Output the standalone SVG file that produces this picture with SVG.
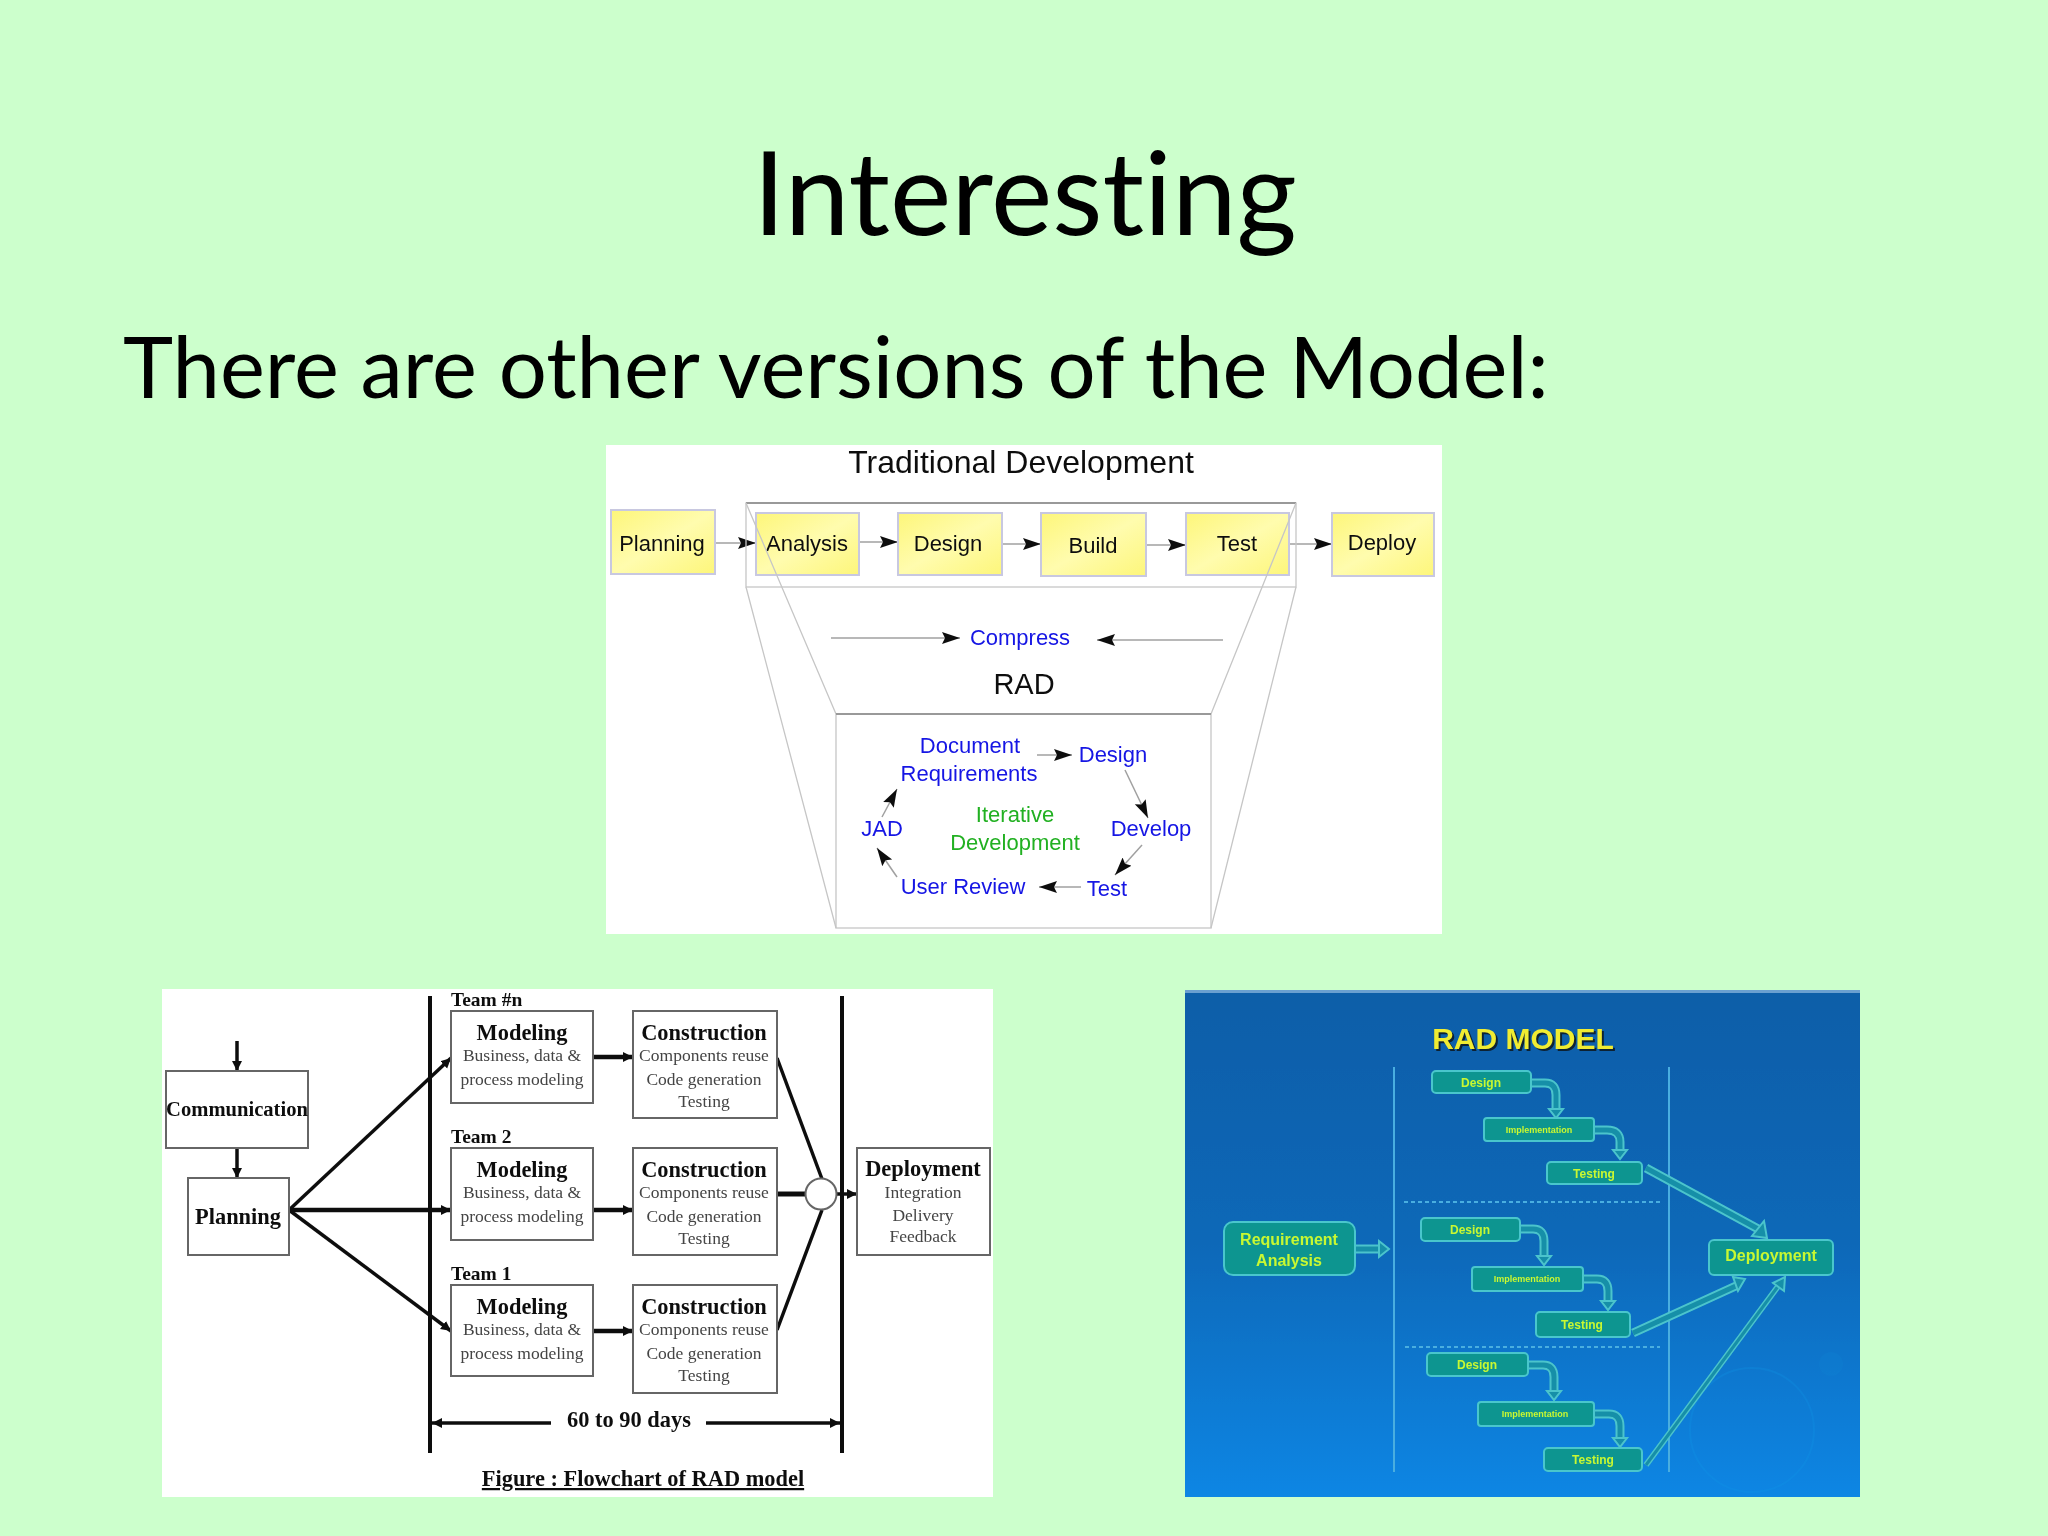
<svg xmlns="http://www.w3.org/2000/svg" width="2048" height="1536" viewBox="0 0 2048 1536">
<style>
.h{font-family:Lato,"Open Sans","Liberation Sans",sans-serif;fill:#000;font-variant-ligatures:none}
.a{font-family:"Liberation Sans",Arial,sans-serif;text-anchor:middle}
.k{fill:#111;font-size:22px}
.b{fill:#1414e4;font-size:22px}
.g{fill:#20b020;font-size:22px}
.y{fill:url(#yel);stroke:#c8c8e0;stroke-width:2}
.t{fill:none;stroke:#c6c6c6;stroke-width:1.3}
.c1{fill:none;stroke:#a0a0a0;stroke-width:1.5;marker-end:url(#m1)}
.s{font-family:"Liberation Serif","Times New Roman",serif;text-anchor:middle}
.sb{font-weight:bold;font-size:22.4px;fill:#111}
.ss{font-size:17.5px;fill:#444}
.tm{font-weight:bold;font-size:19.5px;fill:#111;text-anchor:start}
.w{fill:#fff;stroke:#666;stroke-width:2}
.c2{fill:none;stroke:#111;stroke-width:3.5;marker-end:url(#m2)}
.l2{fill:none;stroke:#111;stroke-width:3.5}
.r{fill:#0f9590;stroke:#49c6cc;stroke-width:2}
.q{font-family:"Liberation Sans",Arial,sans-serif;text-anchor:middle;fill:#c8f830;font-weight:bold}
.o{fill:none;stroke:#4cc4cc;stroke-width:9}
.i{fill:none;stroke:#178fa8;stroke-width:5}
.v{fill:none;stroke:#4aaee0;stroke-width:2}
.d{fill:none;stroke:#4aaee0;stroke-width:2;stroke-dasharray:4 3}
.hd{fill:#178fa8;stroke:#4cc4cc;stroke-width:2}
</style>
<defs>
<linearGradient id="yel" x1="0" y1="0" x2="1" y2="1"><stop offset="0" stop-color="#fdf67a"/><stop offset=".5" stop-color="#fffcae"/><stop offset="1" stop-color="#fdf67a"/></linearGradient>
<linearGradient id="blu" x1="0" y1="0" x2="0" y2="1"><stop offset="0" stop-color="#0a5ea8"/><stop offset=".5" stop-color="#0868b8"/><stop offset="1" stop-color="#0a86e4"/></linearGradient>
<marker id="m1" markerUnits="userSpaceOnUse" markerWidth="20" markerHeight="14" refX="18" refY="6" orient="auto"><path d="M0 0L18 6L0 12L3 6Z" fill="#111"/></marker>
<marker id="m2" markerUnits="userSpaceOnUse" markerWidth="12" markerHeight="12" refX="10" refY="5" orient="auto"><path d="M0 0L10 5L0 10Z" fill="#111"/></marker>
<filter id="soft" x="-2%" y="-2%" width="104%" height="104%"><feGaussianBlur stdDeviation="0.45"/></filter>
</defs>
<rect width="2048" height="1536" fill="#ccffcc"/>
<text id="title" class="h" x="1025" y="235" font-size="116" text-anchor="middle">Interesting</text>
<text id="subtitle" class="h" x="123" y="398" font-size="85">There are other versions of the Model:</text>

<g id="panel-traditional" filter="url(#soft)">
<rect x="606" y="445" width="836" height="489" fill="#fff"/>
<text class="a" x="1021" y="473" font-size="32" fill="#111">Traditional Development</text>
<g id="t-connectors">
<path class="c1" d="M715 543H756"/><path class="c1" d="M859 542H898"/><path class="c1" d="M1002 544H1041"/><path class="c1" d="M1146 545H1186"/><path class="c1" d="M1289 544H1332"/>
<path class="c1" d="M831 638H960"/><path class="c1" d="M1223 640H1097"/>
<path class="c1" d="M1037 755H1072"/><path class="c1" d="M1125 770L1148 818"/><path class="c1" d="M1142 845L1115 875"/><path class="c1" d="M1081 887H1039"/><path class="c1" d="M897 877L877 848"/><path class="c1" d="M882 817L897 789"/>
</g>
<g id="n-planning"><rect class="y" x="611" y="510" width="104" height="64"/><text class="a k" x="662" y="551">Planning</text></g>
<g id="n-analysis"><rect class="y" x="756" y="513" width="103" height="62"/><text class="a k" x="807" y="551">Analysis</text></g>
<g id="n-design"><rect class="y" x="898" y="513" width="104" height="62"/><text class="a k" x="948" y="551">Design</text></g>
<g id="n-build"><rect class="y" x="1041" y="513" width="105" height="63"/><text class="a k" x="1093" y="553">Build</text></g>
<g id="n-test"><rect class="y" x="1186" y="513" width="103" height="62"/><text class="a k" x="1237" y="551">Test</text></g>
<g id="n-deploy"><rect class="y" x="1332" y="513" width="102" height="63"/><text class="a k" x="1382" y="550">Deploy</text></g>
<g id="compress-frame">
<rect class="t" x="746" y="503" width="550" height="84"/>
<path d="M746 503H1296" fill="none" stroke="#999" stroke-width="2"/>
<path class="t" d="M746 503L836 714M746 587L836 928M1296 503L1211 714M1296 587L1211 928"/>
<rect class="t" x="836" y="714" width="375" height="214"/>
<path d="M836 714H1211" fill="none" stroke="#999" stroke-width="2"/>
</g>
<text class="a b" x="1020" y="645">Compress</text>
<text class="a" x="1024" y="694" font-size="29" fill="#111">RAD</text>
<g id="n-doc"><text class="a b" x="970" y="753">Document</text><text class="a b" x="969" y="781">Requirements</text></g>
<text id="n-rdesign" class="a b" x="1113" y="762">Design</text>
<text id="n-develop" class="a b" x="1151" y="836">Develop</text>
<text id="n-jad" class="a b" x="882" y="836">JAD</text>
<text id="n-review" class="a b" x="963" y="894">User Review</text>
<text id="n-rtest" class="a b" x="1107" y="896">Test</text>
<g id="n-iter"><text class="a g" x="1015" y="822">Iterative</text><text class="a g" x="1015" y="850">Development</text></g>
</g>

<g id="panel-flowchart" filter="url(#soft)">
<rect x="162" y="989" width="831" height="508" fill="#fff"/>
<g id="f-connectors">
<path class="c2" d="M237 1041V1071"/><path class="c2" d="M237 1148V1178"/>
<path class="c2" d="M289 1210L451 1058"/><path class="c2" d="M289 1210H451" style="stroke-width:4.5"/><path class="c2" d="M289 1210L451 1331"/>
<path class="c2" d="M593 1057H633" style="stroke-width:4.5"/><path class="c2" d="M593 1210H633" style="stroke-width:4.5"/><path class="c2" d="M593 1331H633" style="stroke-width:4.5"/>
<path class="l2" d="M777 1058L822 1179M777 1330L822 1210"/><path class="l2" d="M777 1194H806" style="stroke-width:5"/>
<path class="c2" d="M837 1194H857"/>
<path class="c2" d="M551 1423H432"/><path class="c2" d="M706 1423H840"/>
<path class="l2" d="M430 996V1453M842 996V1453" style="stroke-width:4"/>
</g>
<g id="n-communication"><rect class="w" x="166" y="1071" width="142" height="77"/><text class="s sb" x="237" y="1116" style="font-size:20.6px">Communication</text></g>
<g id="n-fplanning"><rect class="w" x="188" y="1178" width="101" height="77"/><text class="s sb" x="238" y="1224">Planning</text></g>
<g id="team-n">
<text class="s tm" x="451" y="1006">Team #n</text>
<rect class="w" x="451" y="1011" width="142" height="92"/><text class="s sb" x="522" y="1040">Modeling</text><text class="s ss" x="522" y="1061">Business, data &amp;</text><text class="s ss" x="522" y="1085">process modeling</text>
<rect class="w" x="633" y="1011" width="144" height="107"/><text class="s sb" x="704" y="1040">Construction</text><text class="s ss" x="704" y="1061">Components reuse</text><text class="s ss" x="704" y="1085">Code generation</text><text class="s ss" x="704" y="1107">Testing</text>
</g>
<g id="team-2">
<text class="s tm" x="451" y="1143">Team 2</text>
<rect class="w" x="451" y="1148" width="142" height="92"/><text class="s sb" x="522" y="1177">Modeling</text><text class="s ss" x="522" y="1198">Business, data &amp;</text><text class="s ss" x="522" y="1222">process modeling</text>
<rect class="w" x="633" y="1148" width="144" height="107"/><text class="s sb" x="704" y="1177">Construction</text><text class="s ss" x="704" y="1198">Components reuse</text><text class="s ss" x="704" y="1222">Code generation</text><text class="s ss" x="704" y="1244">Testing</text>
</g>
<g id="team-1">
<text class="s tm" x="451" y="1280">Team 1</text>
<rect class="w" x="451" y="1285" width="142" height="91"/><text class="s sb" x="522" y="1314">Modeling</text><text class="s ss" x="522" y="1335">Business, data &amp;</text><text class="s ss" x="522" y="1359">process modeling</text>
<rect class="w" x="633" y="1285" width="144" height="108"/><text class="s sb" x="704" y="1314">Construction</text><text class="s ss" x="704" y="1335">Components reuse</text><text class="s ss" x="704" y="1359">Code generation</text><text class="s ss" x="704" y="1381">Testing</text>
</g>
<circle id="n-merge" cx="821" cy="1194" r="15.5" class="w"/>
<g id="n-deployment"><rect class="w" x="857" y="1148" width="133" height="107"/><text class="s sb" x="923" y="1176">Deployment</text><text class="s ss" x="923" y="1198">Integration</text><text class="s ss" x="923" y="1221">Delivery</text><text class="s ss" x="923" y="1242">Feedback</text></g>
<text class="s sb" x="629" y="1427">60 to 90 days</text>
<text class="s sb" x="643" y="1486" text-decoration="underline">Figure : Flowchart of RAD model</text>
</g>

<g id="panel-blue" filter="url(#soft)">
<rect x="1185" y="990" width="675" height="507" fill="url(#blu)"/>
<rect x="1185" y="990" width="675" height="3" fill="#6aa0d0"/>
<circle cx="1752" cy="1430" r="62" fill="none" stroke="#1a96e8" stroke-width="2" opacity=".25"/>
<circle cx="1831" cy="1364" r="12" fill="#1a80d0" opacity=".35"/>
<text x="1525" y="1051" text-anchor="middle" font-family="Liberation Sans,Arial,sans-serif" font-weight="bold" font-size="30" fill="#123">RAD MODEL</text>
<text x="1523" y="1049" text-anchor="middle" font-family="Liberation Sans,Arial,sans-serif" font-weight="bold" font-size="30" fill="#f0ec30">RAD MODEL</text>
<path class="v" d="M1394 1067V1472M1669 1067V1472"/>
<path class="d" d="M1404 1202H1660M1405 1347H1660"/>
<g id="b-connectors">
<path class="o" d="M1355 1249H1380"/><path class="i" d="M1355 1249H1382"/><path class="hd" d="M1379 1241L1389 1249L1379 1257Z"/>
<g id="elbows">
<path class="o" d="M1531 1083H1545Q1556 1083 1556 1095V1110"/><path class="i" d="M1531 1083H1545Q1556 1083 1556 1095V1111"/><path class="hd" d="M1549 1109H1563L1556 1118Z"/>
<path class="o" d="M1594 1130H1607Q1620 1130 1620 1142V1151"/><path class="i" d="M1594 1130H1607Q1620 1130 1620 1142V1152"/><path class="hd" d="M1613 1150H1627L1620 1159Z"/>
<path class="o" d="M1520 1229H1533Q1544 1229 1544 1241V1257"/><path class="i" d="M1520 1229H1533Q1544 1229 1544 1241V1258"/><path class="hd" d="M1537 1256H1551L1544 1265Z"/>
<path class="o" d="M1583 1279H1597Q1608 1279 1608 1291V1302"/><path class="i" d="M1583 1279H1597Q1608 1279 1608 1291V1303"/><path class="hd" d="M1601 1301H1615L1608 1310Z"/>
<path class="o" d="M1528 1365H1543Q1554 1365 1554 1377V1392"/><path class="i" d="M1528 1365H1543Q1554 1365 1554 1377V1393"/><path class="hd" d="M1547 1391H1561L1554 1400Z"/>
<path class="o" d="M1594 1414H1609Q1620 1414 1620 1426V1439"/><path class="i" d="M1594 1414H1609Q1620 1414 1620 1426V1440"/><path class="hd" d="M1613 1438H1627L1620 1447Z"/>
</g>
<path class="o" d="M1646 1168L1760 1230"/><path class="i" d="M1646 1168L1760 1230"/><path class="hd" d="M1764 1221L1767 1238L1752 1236Z"/>
<path class="o" d="M1633 1333L1738 1285"/><path class="i" d="M1633 1333L1738 1285"/><path class="hd" d="M1733 1277L1745 1279L1738 1291Z"/>
<path class="o" d="M1646 1465L1779 1285" style="stroke-width:6"/><path class="i" d="M1646 1465L1779 1285" style="stroke-width:3"/><path class="hd" d="M1773 1283L1785 1277L1784 1291Z"/>
</g>
<g id="n-req"><rect class="r" x="1224" y="1222" width="131" height="53" rx="9"/><text class="q" x="1289" y="1245" font-size="16">Requirement</text><text class="q" x="1289" y="1266" font-size="16">Analysis</text></g>
<g id="n-bdep"><rect class="r" x="1709" y="1240" width="124" height="35" rx="5"/><text class="q" x="1771" y="1261" font-size="16">Deployment</text></g>
<g id="set-1">
<rect class="r" x="1432" y="1071" width="99" height="22" rx="4"/><text class="q" x="1481" y="1087" font-size="12">Design</text>
<rect class="r" x="1484" y="1118" width="110" height="23" rx="3"/><text class="q" x="1539" y="1133" font-size="9">Implementation</text>
<rect class="r" x="1547" y="1162" width="95" height="22" rx="4"/><text class="q" x="1594" y="1178" font-size="12">Testing</text>
</g>
<g id="set-2">
<rect class="r" x="1421" y="1218" width="99" height="23" rx="4"/><text class="q" x="1470" y="1234" font-size="12">Design</text>
<rect class="r" x="1472" y="1267" width="111" height="24" rx="3"/><text class="q" x="1527" y="1282" font-size="9">Implementation</text>
<rect class="r" x="1536" y="1312" width="94" height="25" rx="4"/><text class="q" x="1582" y="1329" font-size="12">Testing</text>
</g>
<g id="set-3">
<rect class="r" x="1427" y="1353" width="101" height="23" rx="4"/><text class="q" x="1477" y="1369" font-size="12">Design</text>
<rect class="r" x="1478" y="1402" width="116" height="24" rx="3"/><text class="q" x="1535" y="1417" font-size="9">Implementation</text>
<rect class="r" x="1544" y="1448" width="98" height="23" rx="4"/><text class="q" x="1593" y="1464" font-size="12">Testing</text>
</g>
</g>
</svg>
